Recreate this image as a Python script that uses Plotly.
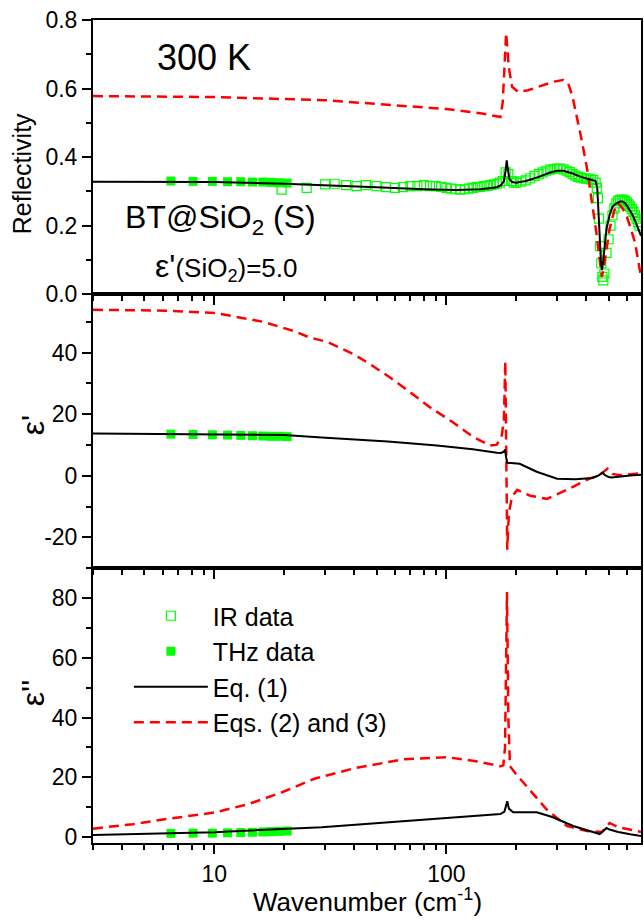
import numpy as np
import plotly.graph_objects as go

# ---------------- data ----------------
# Reflectivity panel
ir_v = [19.5, 25, 30, 33, 37, 41, 45, 50, 55, 60, 65, 70, 75, 80, 85, 90, 95, 100, 105, 110,
        115, 120, 125, 130, 135, 140, 145, 150, 155, 160, 165, 170, 175, 180, 185, 190, 195, 200,
        210, 220, 230, 240, 250, 260, 270, 280, 290, 300, 310, 320, 330, 340, 350, 360, 370, 380,
        390, 400, 410, 420, 430, 440, 445, 450, 455, 460, 465, 470, 475, 480, 490, 500, 510, 520,
        530, 540, 550, 560, 570, 580, 590, 600, 610, 620, 630, 640, 650, 660, 670, 680]
ir_R = [0.305, 0.31, 0.32, 0.322, 0.318, 0.315, 0.318, 0.315, 0.312, 0.31, 0.312, 0.315, 0.315,
        0.318, 0.315, 0.315, 0.313, 0.31, 0.308, 0.306, 0.305, 0.306, 0.308, 0.31, 0.312, 0.313,
        0.315, 0.316, 0.318, 0.32, 0.322, 0.325, 0.33, 0.355, 0.35, 0.33, 0.325, 0.325, 0.328,
        0.332, 0.338, 0.345, 0.35, 0.355, 0.36, 0.363, 0.365, 0.366, 0.366, 0.364, 0.36, 0.356,
        0.35, 0.346, 0.342, 0.34, 0.338, 0.337, 0.336, 0.335, 0.333, 0.325, 0.31, 0.28, 0.22, 0.14,
        0.09, 0.05, 0.04, 0.06, 0.12, 0.16, 0.2, 0.23, 0.25, 0.265, 0.272, 0.275, 0.276, 0.275,
        0.272, 0.268, 0.262, 0.255, 0.248, 0.24, 0.23, 0.22, 0.21, 0.2]

thz_v = [6.5, 8.1, 9.8, 11.4, 13.0, 14.6, 16.2, 17.6, 19.0, 20.6]
thz_R = [0.330, 0.329, 0.329, 0.328, 0.328, 0.327, 0.327, 0.326, 0.325, 0.324]
thz_e1 = [13.5, 13.4, 13.3, 13.2, 13.1, 13.0, 12.9, 12.8, 12.8, 12.7]
thz_e2 = [1.2, 1.3, 1.3, 1.4, 1.5, 1.6, 1.7, 1.8, 1.9, 2.0]

eq1_R_v = [3, 5, 10, 20, 30, 50, 80, 110, 140, 165, 172, 177, 180, 182, 184, 187, 192, 200, 220,
           250, 280, 300, 320, 350, 380, 410, 430, 440, 447, 453, 458, 463, 468, 473, 480, 490,
           505, 520, 540, 560, 575, 590, 610, 630, 650, 670, 690]
eq1_R = [0.328, 0.328, 0.327, 0.322, 0.318, 0.312, 0.306, 0.304, 0.306, 0.312, 0.318, 0.33, 0.36,
         0.39, 0.365, 0.335, 0.327, 0.325, 0.33, 0.342, 0.355, 0.36, 0.36, 0.352, 0.342, 0.336,
         0.333, 0.33, 0.31, 0.25, 0.17, 0.1, 0.07, 0.09, 0.14, 0.19, 0.23, 0.255, 0.265, 0.27,
         0.27, 0.265, 0.25, 0.235, 0.215, 0.19, 0.17]

eq23_R_v = [3, 10, 30, 60, 100, 140, 171, 175, 178, 181, 183, 186, 192, 204, 225, 260, 290, 318,
            335, 350, 365, 383, 403, 423, 443, 458, 468, 480, 505, 530, 550, 575, 600, 625, 650,
            670, 690]
eq23_R = [0.578, 0.575, 0.566, 0.552, 0.54, 0.528, 0.517, 0.56, 0.68, 0.762, 0.72, 0.66, 0.605,
          0.59, 0.595, 0.61, 0.62, 0.625, 0.615, 0.575, 0.52, 0.45, 0.37, 0.275, 0.18, 0.1, 0.05,
          0.09, 0.19, 0.245, 0.265, 0.25, 0.225, 0.19, 0.15, 0.1, 0.05]

# epsilon' panel
eq1_e1_v = [3, 10, 20, 29, 56, 91, 130, 165, 172, 177, 179, 181, 183, 190, 207, 245, 300, 360,
            426, 450, 465, 472, 480, 500, 515, 560, 620, 690]
eq1_e1 = [13.7, 13.5, 13.2, 12.4, 11.1, 9.8, 8.6, 7.5, 7.4, 7.8, 8.5, 6.0, 4.2, 4.1, 3.9, 1.3,
          -1.0, -1.1, -0.7, 0.0, 0.8, 1.0, 0.3, -0.4, -0.6, -0.2, 0.1, 0.3]

eq23_e1_v = [3, 6.2, 10.2, 16.2, 22, 25.5, 30.8, 40, 47, 57, 69, 84, 107, 130, 154, 165, 173,
             177, 179.5, 181, 183, 186, 192, 202, 230, 271, 330, 403, 458, 480, 495, 510, 520,
             560, 620, 690]
eq23_e1 = [53.9, 53.6, 52.8, 50.0, 47.0, 45.0, 43.4, 39.4, 36.2, 32.0, 27.4, 22.5, 17.3, 12.7,
           9.8, 10.1, 12.7, 18, 37.2, 10, -24, -12, -6.8, -4.6, -6.5, -7.5, -4.6, -1.3, 0.3, 1.5,
           2.3, 1.3, 0.6, 0.2, 0.5, 0.8]

# epsilon'' panel
eq1_e2_v = [3, 10, 29, 56, 107, 171, 178, 181, 183, 186, 194, 245, 286, 352, 420, 458, 475, 490,
            505, 550, 620, 690]
eq1_e2 = [0.7, 1.6, 3.3, 5.0, 6.7, 7.7, 8.5, 10.5, 12, 9.5, 8.3, 8.3, 6.7, 3.7, 2.0, 1.0, 2.0,
          3.0, 2.5, 1.7, 0.9, 0.3]

eq23_e2_v = [3, 4.45, 6.2, 10, 14, 19.6, 27, 40, 65, 101, 136, 171, 176, 179, 181, 182.5, 185,
             188, 200, 222, 270, 330, 403, 468, 490, 505, 550, 620, 690]
eq23_e2 = [2.8, 4.3, 6.0, 8.2, 11.0, 15.0, 19.5, 23, 26, 26.7, 25.3, 23.7, 24, 30, 60, 82, 40,
           23.7, 21, 17, 9.3, 3.7, 2.0, 1.7, 3.5, 4.7, 3.3, 2.5, 1.7]

x_major = [10, 100]
x_minor = [3, 4, 5, 6, 7, 8, 9, 20, 30, 40, 50, 60, 70, 80, 90, 200, 300, 400, 500, 600]
y2_ticks = [-20, 0, 20, 40]
y2_labels = ["-20", "0", "20", "40"]

# ---------------- styling ----------------
FONT = "Liberation Sans, Arial, sans-serif"
GREEN = "#00FF00"
RED = "#FF0000"
BLACK = "#000000"
XR = [np.log10(3), np.log10(690)]

fig = go.Figure()

panels = [("x", "y", ir_v, ir_R, thz_R, eq1_R_v, eq1_R, eq23_R_v, eq23_R),
          ("x2", "y2", None, None, thz_e1, eq1_e1_v, eq1_e1, eq23_e1_v, eq23_e1),
          ("x3", "y3", None, None, thz_e2, eq1_e2_v, eq1_e2, eq23_e2_v, eq23_e2)]

for i, (xa, ya, irv, irr, thz, e1v, e1, e23v, e23) in enumerate(panels):
    first = (i == 0)
    if irv is not None:
        fig.add_trace(go.Scatter(x=irv, y=irr, mode="markers", name="IR data",
                                 marker=dict(symbol="square-open", size=9, color=GREEN,
                                             line=dict(width=1.2, color=GREEN)),
                                 xaxis=xa, yaxis=ya, showlegend=True, legendrank=1))
    fig.add_trace(go.Scatter(x=thz_v, y=thz, mode="markers", name="THz data",
                             marker=dict(symbol="square", size=9, color=GREEN),
                             xaxis=xa, yaxis=ya, showlegend=first, legendrank=2))
    fig.add_trace(go.Scatter(x=e23v, y=e23, mode="lines", name="Eqs. (2) and (3)",
                             line=dict(color=RED, width=2.5, dash="10px,6px"),
                             xaxis=xa, yaxis=ya, showlegend=first, legendrank=4))
    fig.add_trace(go.Scatter(x=e1v, y=e1, mode="lines", name="Eq. (1)",
                             line=dict(color=BLACK, width=2),
                             xaxis=xa, yaxis=ya, showlegend=first, legendrank=3))

tickfont = dict(family=FONT, size=23, color=BLACK)

def xaxis_common(anchor, labels):
    return dict(type="log", range=XR, domain=[0, 1], anchor=anchor,
                tickvals=x_major, ticktext=["10", "100"],
                showticklabels=labels, ticks="outside", ticklen=9, tickwidth=2,
                tickcolor=BLACK, tickfont=tickfont,
                minor=dict(tickvals=x_minor, ticks="outside", ticklen=5, tickwidth=2,
                           tickcolor=BLACK),
                showline=True, linewidth=2, linecolor=BLACK, mirror=True,
                showgrid=False, zeroline=False)

def xaxis_top(overlay, anchor):
    return dict(type="log", range=XR, domain=[0, 1], anchor=anchor, overlaying=overlay,
                side="top", tickvals=x_major, showticklabels=False, ticks="inside",
                ticklen=9, tickwidth=2, tickcolor=BLACK,
                minor=dict(tickvals=x_minor, ticks="inside", ticklen=5, tickwidth=2,
                           tickcolor=BLACK),
                showline=False, showgrid=False, zeroline=False)

def yaxis_common(anchor, dom, rng, dtick, mdtick, fmt=None, tv=None, tt=None):
    d = dict(domain=dom, anchor=anchor, range=rng, tick0=0, dtick=dtick,
             ticks="outside", ticklen=9, tickwidth=2, tickcolor=BLACK, tickfont=tickfont,
             minor=dict(dtick=mdtick, tick0=0, ticks="outside", ticklen=5, tickwidth=2,
                        tickcolor=BLACK),
             showline=True, linewidth=2, linecolor=BLACK, mirror=True,
             showgrid=False, zeroline=False)
    if fmt:
        d["tickformat"] = fmt
    if tv is not None:
        d["tickmode"] = "array"
        d["tickvals"] = tv
        d["ticktext"] = tt
    return d

def yaxis_right(overlay, anchor, rng, dtick, mdtick):
    return dict(overlaying=overlay, anchor=anchor, side="right", range=rng, tick0=0,
                dtick=dtick, showticklabels=False, ticks="inside", ticklen=9, tickwidth=2,
                tickcolor=BLACK,
                minor=dict(dtick=mdtick, tick0=0, ticks="inside", ticklen=5, tickwidth=2,
                           tickcolor=BLACK),
                showline=False, showgrid=False, zeroline=False)

D1 = [0.667, 1.0]
D2 = [0.334, 0.667]
D3 = [0.0, 0.334]
R1, R2, R3 = [0, 0.8], [-30, 59], [-2, 90]

fig.update_layout(
    width=644, height=920,
    margin=dict(l=93, r=1, t=20, b=77),
    paper_bgcolor="white", plot_bgcolor="white",
    font=dict(family=FONT, color=BLACK),
    xaxis=xaxis_common("y", False),
    xaxis2=xaxis_common("y2", False),
    xaxis3=xaxis_common("y3", True),
    xaxis4=xaxis_top("x", "y"),
    xaxis5=xaxis_top("x2", "y2"),
    xaxis6=xaxis_top("x3", "y3"),
    yaxis=yaxis_common("x", D1, R1, 0.2, 0.1, ".1f"),
    yaxis2=yaxis_common("x2", D2, R2, 20, 10, tv=y2_ticks, tt=y2_labels),
    yaxis3=yaxis_common("x3", D3, R3, 20, 10),
    yaxis4=yaxis_right("y", "x", R1, 0.2, 0.1),
    yaxis5=yaxis_right("y2", "x2", R2, 20, 10),
    yaxis6=yaxis_right("y3", "x3", R3, 20, 10),
    legend=dict(x=(129 - 93) / 550, y=(843 - 593) / 823, xanchor="left", yanchor="top",
                bgcolor="rgba(0,0,0,0)", font=dict(family=FONT, size=25, color=BLACK),
                itemwidth=74, traceorder="normal"),
    showlegend=True,
)

def px_x(p):
    return (p - 93) / 550

def px_y(p):
    return (843 - p) / 823

ann = [
    dict(text="300 K", x=px_x(155), y=px_y(57), xanchor="left", yanchor="middle",
         font=dict(size=36)),
    dict(text="BT@SiO<sub>2</sub> (S)", x=px_x(123), y=px_y(219), xanchor="left",
         yanchor="middle", font=dict(size=32)),
    dict(text="ε'<span style='font-size:26px'>(SiO<sub>2</sub>)=5.0</span>", x=px_x(153),
         y=px_y(267), xanchor="left", yanchor="middle", font=dict(size=32)),
    dict(text="Reflectivity", x=px_x(22), y=px_y(174), textangle=-90, xanchor="center",
         yanchor="middle", font=dict(size=25)),
    dict(text="ε'", x=px_x(33), y=px_y(425), textangle=-90, xanchor="center",
         yanchor="middle", font=dict(size=32)),
    dict(text="ε''", x=px_x(33), y=px_y(693), textangle=-90, xanchor="center",
         yanchor="middle", font=dict(size=32)),
    dict(text="Wavenumber (cm<sup>-1</sup>)", x=px_x(368), y=px_y(900), xanchor="center",
         yanchor="middle", font=dict(size=26)),
]
for a in ann:
    a.update(xref="paper", yref="paper", showarrow=False)
    a["font"].update(family=FONT, color=BLACK)
fig.update_layout(annotations=ann)

fig.write_html("out.html")
